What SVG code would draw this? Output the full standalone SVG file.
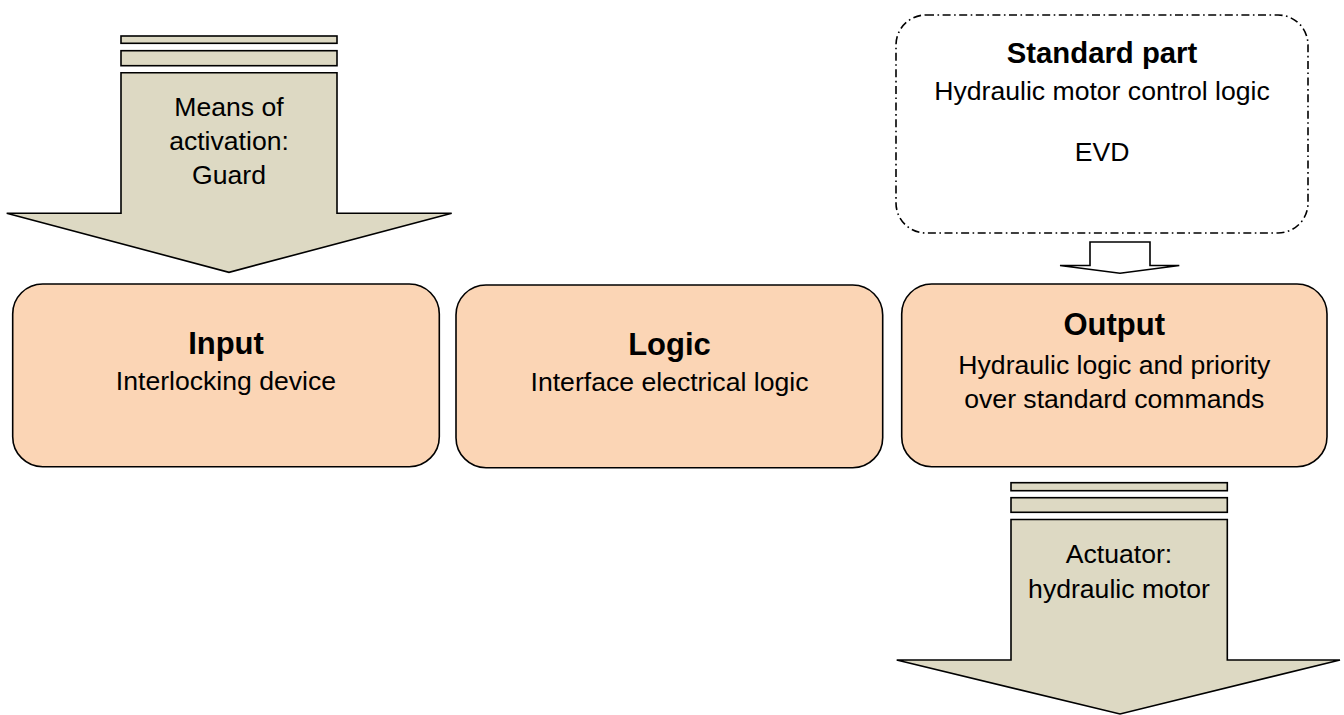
<svg xmlns="http://www.w3.org/2000/svg" width="1344" height="715" viewBox="0 0 1344 715">
  <style>
    .node { fill: #FBD5B5; stroke: #000; stroke-width: 1.6; }
    .block { fill: #DDD9C3; stroke: #000; stroke-width: 1.6; stroke-linejoin: miter; }
    .std { fill: #FFFFFF; stroke: #000; stroke-width: 1.6; stroke-dasharray: 8 3.5 1.6 3.5; }
    .hollow { fill: #FFFFFF; stroke: #000; stroke-width: 1.6; }
    text { font-family: "Liberation Sans", Arial, sans-serif; fill: #000; text-anchor: middle; }
    .title { font-size: 31px; font-weight: bold; }
    .title-sm { font-size: 29.3px; font-weight: bold; }
    .body { font-size: 26.6px; }
  </style>

  <!-- Activation means (block arrow feeding the input) -->
  <g id="means-of-activation">
    <rect class="block" x="121" y="36" width="216" height="7.3"/>
    <rect class="block" x="121" y="50.7" width="216" height="15"/>
    <polygon class="block" points="121,72.7 337,72.7 337,213.3 451.7,213.3 229,272.3 6.7,213.3 121,213.3"/>
    <text class="body" x="229" y="116">Means of</text>
    <text class="body" x="229" y="150">activation:</text>
    <text class="body" x="229" y="184">Guard</text>
  </g>

  <!-- Input block -->
  <g id="input">
    <rect class="node" x="12.7" y="284" width="426.6" height="182.7" rx="30" ry="30"/>
    <text class="title" x="226" y="354">Input</text>
    <text class="body" x="226" y="390">Interlocking device</text>
  </g>

  <!-- Logic block -->
  <g id="logic">
    <rect class="node" x="456" y="285" width="426.7" height="182.7" rx="30" ry="30"/>
    <text class="title" x="669.5" y="355">Logic</text>
    <text class="body" x="669.5" y="391">Interface electrical logic</text>
  </g>

  <!-- Output block -->
  <g id="output">
    <rect class="node" x="901.7" y="284" width="425.3" height="182.7" rx="30" ry="30"/>
    <text class="title" x="1114.3" y="335">Output</text>
    <text class="body" x="1114.3" y="374">Hydraulic logic and priority</text>
    <text class="body" x="1114.3" y="408">over standard commands</text>
  </g>

  <!-- Standard part (dash-dot outline) -->
  <g id="standard-part">
    <rect class="std" x="896" y="15" width="412" height="218" rx="30" ry="30"/>
    <text class="title-sm" x="1102" y="63">Standard part</text>
    <text class="body" x="1102" y="100">Hydraulic motor control logic</text>
    <text class="body" x="1102" y="160.5">EVD</text>
  </g>

  <!-- Actuator (block arrow leaving the output) -->
  <g id="actuator">
    <rect class="block" x="1011" y="482.7" width="216.3" height="8"/>
    <rect class="block" x="1011" y="497.7" width="216.3" height="14.6"/>
    <polygon class="block" points="1011,519.5 1227.3,519.5 1227.3,660 1340,660 1120,714 896.7,660 1011,660"/>
    <text class="body" x="1119" y="563">Actuator:</text>
    <text class="body" x="1119" y="598">hydraulic motor</text>
  </g>

  <!-- Connectors -->
  <g id="connectors">
    <polygon class="hollow" points="1090,242 1150,242 1150,265.5 1179.3,265.5 1120,273.3 1060,265.5 1090,265.5"/>
  </g>
</svg>
